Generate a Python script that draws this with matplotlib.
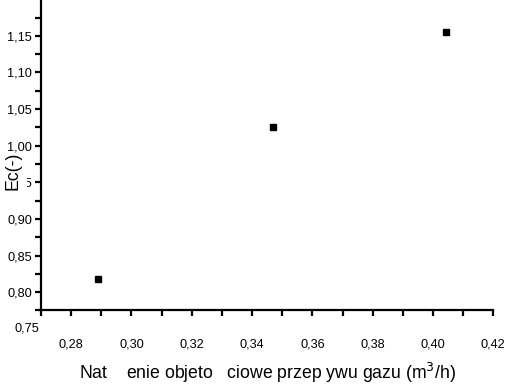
import matplotlib
matplotlib.use('Agg')
import matplotlib.pyplot as plt
from matplotlib.ticker import MultipleLocator, FuncFormatter
from matplotlib.patches import Rectangle

plt.rcParams['font.family'] = ['Liberation Sans', 'DejaVu Sans']

# flow rate (m3/h) vs Ec(-)
flow = [0.2889, 0.3468, 0.4043]
ec = [0.8176, 1.025, 1.155]
yticks = [0.80, 0.85, 0.90, 0.95, 1.00, 1.05, 1.10, 1.15]

fig = plt.figure(figsize=(5.07, 3.86), dpi=100)
ax = fig.add_axes([0.0809, 0.1956, 0.8921, 0.8044])

ax.plot(flow, ec, linestyle='none', marker='s', markersize=5, color='black')

ax.set_xlim(0.27, 0.42)
ax.set_ylim(0.775, 1.199)

for s in ['top', 'right']:
    ax.spines[s].set_visible(False)
for s in ['left', 'bottom']:
    ax.spines[s].set_linewidth(1.6)

comma = FuncFormatter(lambda v, p: f'{v:.2f}'.replace('.', ','))
ax.xaxis.set_major_locator(MultipleLocator(0.02))
ax.xaxis.set_minor_locator(MultipleLocator(0.01))
ax.set_yticks(yticks)
ax.yaxis.set_minor_locator(MultipleLocator(0.025))
ax.xaxis.set_major_formatter(comma)
ax.yaxis.set_major_formatter(comma)

ax.tick_params(axis='both', which='both', direction='out', width=1.6, length=4.5, labelsize=9.2)
ax.tick_params(axis='x', which='major', pad=16)
ax.tick_params(axis='y', which='major', pad=2)

# the 0,75 label sits below the axis end in the original
ax.text(-0.004, 0.75, '0,75', transform=ax.get_yaxis_transform(), ha='right', va='center',
        fontsize=9.2, clip_on=False)

ax.set_xlabel('Nat    enie objeto   ciowe przep ywu gazu (m$^{3}$/h)', fontsize=12.7, labelpad=7)

# white box of the y title hides most of the 0,95 label
ax.add_patch(Rectangle((-0.095, 0.395), 0.064, 0.1, transform=ax.transAxes,
                       facecolor='white', edgecolor='none', clip_on=False, zorder=5))
ax.text(-0.062, 0.45, 'Ec(-)', transform=ax.transAxes, rotation=90, ha='center', va='center',
        fontsize=12.7, clip_on=False, zorder=6)

fig.savefig('out.png', dpi=100)
